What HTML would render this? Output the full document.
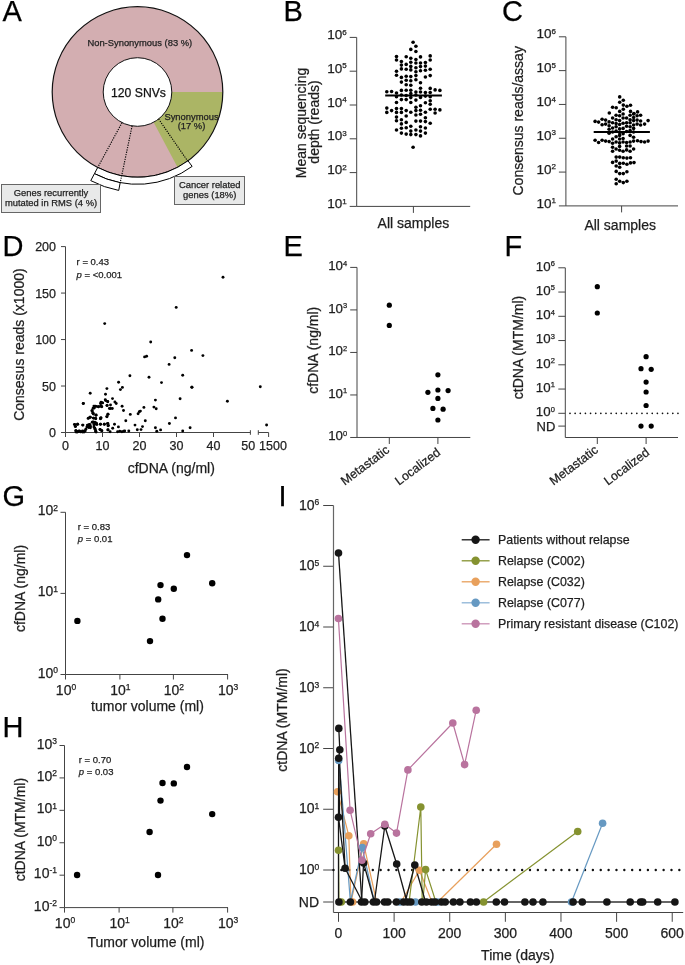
<!DOCTYPE html>
<html><head><meta charset="utf-8"><style>
html,body{margin:0;padding:0;background:#fff;}
svg{display:block;will-change:transform;}
</style></head><body>
<svg width="685" height="965" viewBox="0 0 685 965" font-family="Liberation Sans, sans-serif">
<style>text{stroke:currentColor;stroke-width:0.25px;}</style>
<rect width="685" height="965" fill="#fff"/>
<text x="2.40" y="21.30" font-size="29" text-anchor="start" fill="#000" color="#000" >A</text>
<circle cx="137.5" cy="92.0" r="85.3" fill="#d3aeb1"/>
<path d="M171.80,92.00 L222.80,92.00 A85.3,85.3 0 0 1 177.55,167.32 L153.60,122.29 Z" fill="#abb565"/>
<circle cx="137.5" cy="92.0" r="85.3" fill="none" stroke="#111" stroke-width="1.2"/>
<circle cx="137.5" cy="92.0" r="34.3" fill="#fff" stroke="#111" stroke-width="1"/>
<path d="M192.14,166.39 A92.3,92.3 0 0 1 94.45,173.65 L97.72,167.45 A85.3,85.3 0 0 0 188.00,160.75 Z" fill="#fff" stroke="#000" stroke-width="1"/>
<path d="M118.72,190.43 A100.2,100.2 0 0 1 90.77,180.64 L94.45,173.65 A92.3,92.3 0 0 0 120.20,182.67 Z" fill="#fff" stroke="#000" stroke-width="1"/>
<line x1="122.03" y1="122.62" x2="97.72" y2="167.45" stroke="#000" stroke-width="1.15" stroke-dasharray="1.2,1.2"/>
<line x1="132.13" y1="125.88" x2="120.20" y2="182.67" stroke="#000" stroke-width="1.15" stroke-dasharray="1.2,1.2"/>
<line x1="158.62" y1="119.03" x2="187.64" y2="161.01" stroke="#000" stroke-width="1.15" stroke-dasharray="1.2,1.2"/>
<text x="139.80" y="46.00" font-size="9.4" text-anchor="middle" fill="#222" color="#222" >Non-Synonymous (83 %)</text>
<text x="138.50" y="96.50" font-size="12.2" text-anchor="middle" fill="#111" color="#111" >120 SNVs</text>
<text x="191.50" y="119.50" font-size="9.4" text-anchor="middle" fill="#222" color="#222" >Synonymous</text>
<text x="191.50" y="128.90" font-size="9.4" text-anchor="middle" fill="#222" color="#222" >(17 %)</text>
<rect x="1.5" y="184.5" width="99" height="28" fill="#e8e9e9" stroke="#666" stroke-width="1"/>
<text x="51.00" y="195.90" font-size="9.4" text-anchor="middle" fill="#222" color="#222" >Genes recurrently</text>
<text x="51.00" y="205.50" font-size="9.4" text-anchor="middle" fill="#222" color="#222" >mutated in RMS (4 %)</text>
<rect x="174.5" y="176.5" width="70" height="28" fill="#e8e9e9" stroke="#666" stroke-width="1"/>
<text x="209.70" y="188.40" font-size="9.4" text-anchor="middle" fill="#222" color="#222" >Cancer related</text>
<text x="209.70" y="198.20" font-size="9.4" text-anchor="middle" fill="#222" color="#222" >genes (18%)</text>
<text x="283.40" y="21.30" font-size="29" text-anchor="start" fill="#000" color="#000" >B</text>
<line x1="356.70" y1="37.40" x2="356.70" y2="206.40" stroke="#444" stroke-width="1" />
<line x1="349.70" y1="37.40" x2="356.70" y2="37.40" stroke="#444" stroke-width="1" />
<text x="346.70" y="39.00" font-size="13.5" text-anchor="end" fill="#1e1e1e" color="#1e1e1e">10<tspan font-size="8" dy="-4.5">6</tspan></text>
<line x1="349.70" y1="71.20" x2="356.70" y2="71.20" stroke="#444" stroke-width="1" />
<text x="346.70" y="72.80" font-size="13.5" text-anchor="end" fill="#1e1e1e" color="#1e1e1e">10<tspan font-size="8" dy="-4.5">5</tspan></text>
<line x1="349.70" y1="105.00" x2="356.70" y2="105.00" stroke="#444" stroke-width="1" />
<text x="346.70" y="106.60" font-size="13.5" text-anchor="end" fill="#1e1e1e" color="#1e1e1e">10<tspan font-size="8" dy="-4.5">4</tspan></text>
<line x1="349.70" y1="138.80" x2="356.70" y2="138.80" stroke="#444" stroke-width="1" />
<text x="346.70" y="140.40" font-size="13.5" text-anchor="end" fill="#1e1e1e" color="#1e1e1e">10<tspan font-size="8" dy="-4.5">3</tspan></text>
<line x1="349.70" y1="172.60" x2="356.70" y2="172.60" stroke="#444" stroke-width="1" />
<text x="346.70" y="174.20" font-size="13.5" text-anchor="end" fill="#1e1e1e" color="#1e1e1e">10<tspan font-size="8" dy="-4.5">2</tspan></text>
<line x1="349.70" y1="206.40" x2="356.70" y2="206.40" stroke="#444" stroke-width="1" />
<text x="346.70" y="208.00" font-size="13.5" text-anchor="end" fill="#1e1e1e" color="#1e1e1e">10<tspan font-size="8" dy="-4.5">1</tspan></text>
<line x1="356.70" y1="206.40" x2="470.20" y2="206.40" stroke="#444" stroke-width="1" />
<line x1="413.40" y1="206.40" x2="413.40" y2="212.90" stroke="#444" stroke-width="1" />
<text x="413.40" y="227.70" font-size="14" text-anchor="middle" fill="#1e1e1e" color="#1e1e1e" >All samples</text>
<text x="0" y="0" font-size="14" text-anchor="middle" fill="#1e1e1e" color="#1e1e1e" transform="translate(305.50,123.00) rotate(-90)">Mean sequencing</text>
<text x="0" y="0" font-size="14" text-anchor="middle" fill="#1e1e1e" color="#1e1e1e" transform="translate(319.20,122.00) rotate(-90)">depth (reads)</text>
<circle cx="386.80" cy="91.80" r="1.8" fill="#000" />
<circle cx="386.80" cy="108.10" r="1.8" fill="#000" />
<circle cx="386.80" cy="112.40" r="1.8" fill="#000" />
<circle cx="391.60" cy="91.50" r="1.8" fill="#000" />
<circle cx="391.60" cy="110.60" r="1.8" fill="#000" />
<circle cx="396.50" cy="56.60" r="1.8" fill="#000" />
<circle cx="396.50" cy="60.00" r="1.8" fill="#000" />
<circle cx="396.50" cy="71.20" r="1.8" fill="#000" />
<circle cx="396.50" cy="75.30" r="1.8" fill="#000" />
<circle cx="396.50" cy="93.00" r="1.8" fill="#000" />
<circle cx="396.50" cy="96.80" r="1.8" fill="#000" />
<circle cx="396.50" cy="102.50" r="1.8" fill="#000" />
<circle cx="396.50" cy="108.60" r="1.8" fill="#000" />
<circle cx="396.50" cy="112.40" r="1.8" fill="#000" />
<circle cx="396.50" cy="117.10" r="1.8" fill="#000" />
<circle cx="396.50" cy="120.80" r="1.8" fill="#000" />
<circle cx="396.50" cy="130.00" r="1.8" fill="#000" />
<circle cx="401.40" cy="61.50" r="1.8" fill="#000" />
<circle cx="401.40" cy="65.10" r="1.8" fill="#000" />
<circle cx="401.40" cy="68.90" r="1.8" fill="#000" />
<circle cx="401.40" cy="77.40" r="1.8" fill="#000" />
<circle cx="401.40" cy="82.10" r="1.8" fill="#000" />
<circle cx="401.40" cy="90.40" r="1.8" fill="#000" />
<circle cx="401.40" cy="95.00" r="1.8" fill="#000" />
<circle cx="401.40" cy="99.60" r="1.8" fill="#000" />
<circle cx="401.40" cy="108.60" r="1.8" fill="#000" />
<circle cx="401.40" cy="112.40" r="1.8" fill="#000" />
<circle cx="401.40" cy="119.80" r="1.8" fill="#000" />
<circle cx="401.40" cy="123.90" r="1.8" fill="#000" />
<circle cx="401.40" cy="128.30" r="1.8" fill="#000" />
<circle cx="401.40" cy="133.10" r="1.8" fill="#000" />
<circle cx="406.20" cy="56.70" r="1.8" fill="#000" />
<circle cx="406.20" cy="64.40" r="1.8" fill="#000" />
<circle cx="406.20" cy="69.20" r="1.8" fill="#000" />
<circle cx="406.20" cy="76.30" r="1.8" fill="#000" />
<circle cx="406.20" cy="80.20" r="1.8" fill="#000" />
<circle cx="406.20" cy="84.80" r="1.8" fill="#000" />
<circle cx="406.20" cy="90.20" r="1.8" fill="#000" />
<circle cx="406.20" cy="95.50" r="1.8" fill="#000" />
<circle cx="406.20" cy="99.60" r="1.8" fill="#000" />
<circle cx="406.20" cy="110.60" r="1.8" fill="#000" />
<circle cx="406.20" cy="116.00" r="1.8" fill="#000" />
<circle cx="406.20" cy="122.40" r="1.8" fill="#000" />
<circle cx="406.20" cy="127.70" r="1.8" fill="#000" />
<circle cx="406.20" cy="134.10" r="1.8" fill="#000" />
<circle cx="410.80" cy="49.40" r="1.8" fill="#000" />
<circle cx="410.80" cy="58.20" r="1.8" fill="#000" />
<circle cx="410.80" cy="62.30" r="1.8" fill="#000" />
<circle cx="410.80" cy="66.40" r="1.8" fill="#000" />
<circle cx="410.80" cy="69.90" r="1.8" fill="#000" />
<circle cx="410.80" cy="76.60" r="1.8" fill="#000" />
<circle cx="410.80" cy="80.70" r="1.8" fill="#000" />
<circle cx="410.80" cy="85.30" r="1.8" fill="#000" />
<circle cx="410.80" cy="90.20" r="1.8" fill="#000" />
<circle cx="410.80" cy="93.50" r="1.8" fill="#000" />
<circle cx="410.80" cy="97.60" r="1.8" fill="#000" />
<circle cx="410.80" cy="102.50" r="1.8" fill="#000" />
<circle cx="410.80" cy="112.20" r="1.8" fill="#000" />
<circle cx="410.80" cy="126.30" r="1.8" fill="#000" />
<circle cx="410.80" cy="131.10" r="1.8" fill="#000" />
<circle cx="410.80" cy="134.60" r="1.8" fill="#000" />
<circle cx="413.10" cy="42.30" r="1.8" fill="#000" />
<circle cx="413.10" cy="147.20" r="1.8" fill="#000" />
<circle cx="415.90" cy="46.20" r="1.8" fill="#000" />
<circle cx="415.90" cy="51.50" r="1.8" fill="#000" />
<circle cx="415.90" cy="59.50" r="1.8" fill="#000" />
<circle cx="415.90" cy="63.00" r="1.8" fill="#000" />
<circle cx="415.90" cy="67.80" r="1.8" fill="#000" />
<circle cx="415.90" cy="71.70" r="1.8" fill="#000" />
<circle cx="415.90" cy="75.60" r="1.8" fill="#000" />
<circle cx="415.90" cy="79.70" r="1.8" fill="#000" />
<circle cx="415.90" cy="92.00" r="1.8" fill="#000" />
<circle cx="415.90" cy="95.00" r="1.8" fill="#000" />
<circle cx="415.90" cy="100.10" r="1.8" fill="#000" />
<circle cx="415.90" cy="107.20" r="1.8" fill="#000" />
<circle cx="415.90" cy="110.60" r="1.8" fill="#000" />
<circle cx="415.90" cy="115.00" r="1.8" fill="#000" />
<circle cx="415.90" cy="121.10" r="1.8" fill="#000" />
<circle cx="415.90" cy="130.00" r="1.8" fill="#000" />
<circle cx="415.90" cy="134.60" r="1.8" fill="#000" />
<circle cx="420.50" cy="56.90" r="1.8" fill="#000" />
<circle cx="420.50" cy="63.00" r="1.8" fill="#000" />
<circle cx="420.50" cy="66.60" r="1.8" fill="#000" />
<circle cx="420.50" cy="70.70" r="1.8" fill="#000" />
<circle cx="420.50" cy="82.80" r="1.8" fill="#000" />
<circle cx="420.50" cy="88.20" r="1.8" fill="#000" />
<circle cx="420.50" cy="92.00" r="1.8" fill="#000" />
<circle cx="420.50" cy="97.40" r="1.8" fill="#000" />
<circle cx="420.50" cy="105.80" r="1.8" fill="#000" />
<circle cx="420.50" cy="110.30" r="1.8" fill="#000" />
<circle cx="420.50" cy="114.20" r="1.8" fill="#000" />
<circle cx="420.50" cy="121.10" r="1.8" fill="#000" />
<circle cx="420.50" cy="126.70" r="1.8" fill="#000" />
<circle cx="420.50" cy="131.10" r="1.8" fill="#000" />
<circle cx="420.50" cy="135.90" r="1.8" fill="#000" />
<circle cx="425.40" cy="62.50" r="1.8" fill="#000" />
<circle cx="425.40" cy="66.10" r="1.8" fill="#000" />
<circle cx="425.40" cy="70.20" r="1.8" fill="#000" />
<circle cx="425.40" cy="77.00" r="1.8" fill="#000" />
<circle cx="425.40" cy="92.50" r="1.8" fill="#000" />
<circle cx="425.40" cy="96.10" r="1.8" fill="#000" />
<circle cx="425.40" cy="102.70" r="1.8" fill="#000" />
<circle cx="425.40" cy="112.20" r="1.8" fill="#000" />
<circle cx="425.40" cy="117.80" r="1.8" fill="#000" />
<circle cx="425.40" cy="121.60" r="1.8" fill="#000" />
<circle cx="425.40" cy="128.00" r="1.8" fill="#000" />
<circle cx="425.40" cy="133.10" r="1.8" fill="#000" />
<circle cx="430.20" cy="55.90" r="1.8" fill="#000" />
<circle cx="430.20" cy="60.00" r="1.8" fill="#000" />
<circle cx="430.20" cy="69.20" r="1.8" fill="#000" />
<circle cx="430.20" cy="75.60" r="1.8" fill="#000" />
<circle cx="430.20" cy="88.40" r="1.8" fill="#000" />
<circle cx="430.20" cy="92.50" r="1.8" fill="#000" />
<circle cx="430.20" cy="96.80" r="1.8" fill="#000" />
<circle cx="430.20" cy="100.70" r="1.8" fill="#000" />
<circle cx="430.20" cy="104.20" r="1.8" fill="#000" />
<circle cx="430.20" cy="109.30" r="1.8" fill="#000" />
<circle cx="430.20" cy="123.20" r="1.8" fill="#000" />
<circle cx="435.10" cy="89.90" r="1.8" fill="#000" />
<circle cx="435.10" cy="109.30" r="1.8" fill="#000" />
<circle cx="435.10" cy="113.00" r="1.8" fill="#000" />
<circle cx="439.90" cy="90.40" r="1.8" fill="#000" />
<circle cx="439.90" cy="109.90" r="1.8" fill="#000" />
<line x1="385.20" y1="95.50" x2="441.90" y2="95.50" stroke="#000" stroke-width="2" />
<text x="501.90" y="21.30" font-size="29" text-anchor="start" fill="#000" color="#000" >C</text>
<line x1="565.90" y1="36.80" x2="565.90" y2="205.90" stroke="#444" stroke-width="1" />
<line x1="558.90" y1="36.80" x2="565.90" y2="36.80" stroke="#444" stroke-width="1" />
<text x="555.90" y="38.40" font-size="13.5" text-anchor="end" fill="#1e1e1e" color="#1e1e1e">10<tspan font-size="8" dy="-4.5">6</tspan></text>
<line x1="558.90" y1="70.62" x2="565.90" y2="70.62" stroke="#444" stroke-width="1" />
<text x="555.90" y="72.22" font-size="13.5" text-anchor="end" fill="#1e1e1e" color="#1e1e1e">10<tspan font-size="8" dy="-4.5">5</tspan></text>
<line x1="558.90" y1="104.44" x2="565.90" y2="104.44" stroke="#444" stroke-width="1" />
<text x="555.90" y="106.04" font-size="13.5" text-anchor="end" fill="#1e1e1e" color="#1e1e1e">10<tspan font-size="8" dy="-4.5">4</tspan></text>
<line x1="558.90" y1="138.26" x2="565.90" y2="138.26" stroke="#444" stroke-width="1" />
<text x="555.90" y="139.86" font-size="13.5" text-anchor="end" fill="#1e1e1e" color="#1e1e1e">10<tspan font-size="8" dy="-4.5">3</tspan></text>
<line x1="558.90" y1="172.08" x2="565.90" y2="172.08" stroke="#444" stroke-width="1" />
<text x="555.90" y="173.68" font-size="13.5" text-anchor="end" fill="#1e1e1e" color="#1e1e1e">10<tspan font-size="8" dy="-4.5">2</tspan></text>
<line x1="558.90" y1="205.90" x2="565.90" y2="205.90" stroke="#444" stroke-width="1" />
<text x="555.90" y="207.50" font-size="13.5" text-anchor="end" fill="#1e1e1e" color="#1e1e1e">10<tspan font-size="8" dy="-4.5">1</tspan></text>
<line x1="565.90" y1="205.90" x2="678.00" y2="205.90" stroke="#444" stroke-width="1" />
<line x1="621.60" y1="205.90" x2="621.60" y2="212.40" stroke="#444" stroke-width="1" />
<text x="620.20" y="229.80" font-size="14" text-anchor="middle" fill="#1e1e1e" color="#1e1e1e" >All samples</text>
<text x="0" y="0" font-size="14" text-anchor="middle" fill="#1e1e1e" color="#1e1e1e" transform="translate(523.30,120.80) rotate(-90)">Consensus reads/assay</text>
<circle cx="619.70" cy="96.90" r="1.8" fill="#000" />
<circle cx="623.30" cy="100.20" r="1.8" fill="#000" />
<circle cx="619.70" cy="102.20" r="1.8" fill="#000" />
<circle cx="623.30" cy="105.10" r="1.8" fill="#000" />
<circle cx="626.90" cy="106.30" r="1.8" fill="#000" />
<circle cx="630.50" cy="105.30" r="1.8" fill="#000" />
<circle cx="612.60" cy="107.30" r="1.8" fill="#000" />
<circle cx="616.20" cy="107.80" r="1.8" fill="#000" />
<circle cx="623.30" cy="109.20" r="1.8" fill="#000" />
<circle cx="609.30" cy="113.00" r="1.8" fill="#000" />
<circle cx="619.70" cy="111.40" r="1.8" fill="#000" />
<circle cx="630.50" cy="111.40" r="1.8" fill="#000" />
<circle cx="637.60" cy="111.90" r="1.8" fill="#000" />
<circle cx="634.00" cy="113.50" r="1.8" fill="#000" />
<circle cx="616.20" cy="157.10" r="1.8" fill="#000" />
<circle cx="619.70" cy="157.10" r="1.8" fill="#000" />
<circle cx="623.30" cy="157.80" r="1.8" fill="#000" />
<circle cx="626.90" cy="158.10" r="1.8" fill="#000" />
<circle cx="630.50" cy="157.80" r="1.8" fill="#000" />
<circle cx="612.60" cy="162.40" r="1.8" fill="#000" />
<circle cx="616.20" cy="161.10" r="1.8" fill="#000" />
<circle cx="619.70" cy="163.40" r="1.8" fill="#000" />
<circle cx="623.30" cy="163.20" r="1.8" fill="#000" />
<circle cx="626.90" cy="164.20" r="1.8" fill="#000" />
<circle cx="630.50" cy="162.90" r="1.8" fill="#000" />
<circle cx="634.00" cy="162.60" r="1.8" fill="#000" />
<circle cx="616.20" cy="166.00" r="1.8" fill="#000" />
<circle cx="619.70" cy="167.30" r="1.8" fill="#000" />
<circle cx="616.20" cy="171.40" r="1.8" fill="#000" />
<circle cx="619.70" cy="173.60" r="1.8" fill="#000" />
<circle cx="623.30" cy="173.60" r="1.8" fill="#000" />
<circle cx="626.90" cy="171.80" r="1.8" fill="#000" />
<circle cx="616.20" cy="179.20" r="1.8" fill="#000" />
<circle cx="619.70" cy="181.30" r="1.8" fill="#000" />
<circle cx="623.30" cy="182.60" r="1.8" fill="#000" />
<circle cx="626.90" cy="181.30" r="1.8" fill="#000" />
<circle cx="616.20" cy="183.80" r="1.8" fill="#000" />
<circle cx="595.10" cy="121.40" r="1.8" fill="#000" />
<circle cx="598.60" cy="122.10" r="1.8" fill="#000" />
<circle cx="602.10" cy="119.30" r="1.8" fill="#000" />
<circle cx="602.10" cy="124.70" r="1.8" fill="#000" />
<circle cx="605.60" cy="120.10" r="1.8" fill="#000" />
<circle cx="605.60" cy="124.10" r="1.8" fill="#000" />
<circle cx="609.10" cy="121.90" r="1.8" fill="#000" />
<circle cx="609.10" cy="125.80" r="1.8" fill="#000" />
<circle cx="612.60" cy="118.00" r="1.8" fill="#000" />
<circle cx="612.60" cy="122.80" r="1.8" fill="#000" />
<circle cx="616.10" cy="115.30" r="1.8" fill="#000" />
<circle cx="616.10" cy="119.70" r="1.8" fill="#000" />
<circle cx="616.10" cy="123.60" r="1.8" fill="#000" />
<circle cx="616.10" cy="126.70" r="1.8" fill="#000" />
<circle cx="619.60" cy="115.80" r="1.8" fill="#000" />
<circle cx="619.60" cy="120.60" r="1.8" fill="#000" />
<circle cx="619.60" cy="124.50" r="1.8" fill="#000" />
<circle cx="623.10" cy="114.00" r="1.8" fill="#000" />
<circle cx="623.10" cy="118.00" r="1.8" fill="#000" />
<circle cx="623.10" cy="123.20" r="1.8" fill="#000" />
<circle cx="626.60" cy="118.00" r="1.8" fill="#000" />
<circle cx="626.60" cy="122.80" r="1.8" fill="#000" />
<circle cx="626.60" cy="126.30" r="1.8" fill="#000" />
<circle cx="630.10" cy="115.30" r="1.8" fill="#000" />
<circle cx="630.10" cy="119.70" r="1.8" fill="#000" />
<circle cx="630.10" cy="122.80" r="1.8" fill="#000" />
<circle cx="630.10" cy="126.70" r="1.8" fill="#000" />
<circle cx="633.60" cy="114.00" r="1.8" fill="#000" />
<circle cx="633.60" cy="117.50" r="1.8" fill="#000" />
<circle cx="633.60" cy="120.60" r="1.8" fill="#000" />
<circle cx="633.60" cy="125.00" r="1.8" fill="#000" />
<circle cx="637.10" cy="115.80" r="1.8" fill="#000" />
<circle cx="637.10" cy="120.10" r="1.8" fill="#000" />
<circle cx="637.10" cy="124.10" r="1.8" fill="#000" />
<circle cx="640.60" cy="115.30" r="1.8" fill="#000" />
<circle cx="640.60" cy="121.00" r="1.8" fill="#000" />
<circle cx="640.60" cy="125.00" r="1.8" fill="#000" />
<circle cx="644.60" cy="124.10" r="1.8" fill="#000" />
<circle cx="648.10" cy="120.60" r="1.8" fill="#000" />
<circle cx="609.10" cy="129.30" r="1.8" fill="#000" />
<circle cx="609.10" cy="133.30" r="1.8" fill="#000" />
<circle cx="609.10" cy="141.60" r="1.8" fill="#000" />
<circle cx="612.60" cy="128.00" r="1.8" fill="#000" />
<circle cx="612.60" cy="132.00" r="1.8" fill="#000" />
<circle cx="612.60" cy="139.00" r="1.8" fill="#000" />
<circle cx="612.60" cy="143.30" r="1.8" fill="#000" />
<circle cx="612.60" cy="147.30" r="1.8" fill="#000" />
<circle cx="612.60" cy="151.20" r="1.8" fill="#000" />
<circle cx="616.10" cy="131.00" r="1.8" fill="#000" />
<circle cx="616.10" cy="136.80" r="1.8" fill="#000" />
<circle cx="616.10" cy="142.00" r="1.8" fill="#000" />
<circle cx="616.10" cy="149.00" r="1.8" fill="#000" />
<circle cx="619.60" cy="128.90" r="1.8" fill="#000" />
<circle cx="619.60" cy="132.40" r="1.8" fill="#000" />
<circle cx="619.60" cy="135.40" r="1.8" fill="#000" />
<circle cx="619.60" cy="139.00" r="1.8" fill="#000" />
<circle cx="619.60" cy="142.90" r="1.8" fill="#000" />
<circle cx="619.60" cy="146.40" r="1.8" fill="#000" />
<circle cx="619.60" cy="150.30" r="1.8" fill="#000" />
<circle cx="623.10" cy="128.40" r="1.8" fill="#000" />
<circle cx="623.10" cy="133.70" r="1.8" fill="#000" />
<circle cx="623.10" cy="138.50" r="1.8" fill="#000" />
<circle cx="623.10" cy="142.00" r="1.8" fill="#000" />
<circle cx="623.10" cy="151.20" r="1.8" fill="#000" />
<circle cx="626.60" cy="131.50" r="1.8" fill="#000" />
<circle cx="626.60" cy="142.50" r="1.8" fill="#000" />
<circle cx="626.60" cy="146.00" r="1.8" fill="#000" />
<circle cx="626.60" cy="149.90" r="1.8" fill="#000" />
<circle cx="630.10" cy="130.60" r="1.8" fill="#000" />
<circle cx="630.10" cy="135.40" r="1.8" fill="#000" />
<circle cx="630.10" cy="142.00" r="1.8" fill="#000" />
<circle cx="630.10" cy="146.00" r="1.8" fill="#000" />
<circle cx="630.10" cy="151.20" r="1.8" fill="#000" />
<circle cx="633.60" cy="128.40" r="1.8" fill="#000" />
<circle cx="633.60" cy="132.00" r="1.8" fill="#000" />
<circle cx="633.60" cy="137.20" r="1.8" fill="#000" />
<circle cx="633.60" cy="141.10" r="1.8" fill="#000" />
<circle cx="633.60" cy="149.00" r="1.8" fill="#000" />
<circle cx="595.10" cy="140.30" r="1.8" fill="#000" />
<circle cx="598.60" cy="142.50" r="1.8" fill="#000" />
<circle cx="602.10" cy="140.30" r="1.8" fill="#000" />
<circle cx="605.60" cy="141.10" r="1.8" fill="#000" />
<circle cx="637.50" cy="140.70" r="1.8" fill="#000" />
<circle cx="641.00" cy="141.60" r="1.8" fill="#000" />
<circle cx="644.60" cy="142.00" r="1.8" fill="#000" />
<circle cx="648.10" cy="141.10" r="1.8" fill="#000" />
<line x1="593.70" y1="132.10" x2="649.90" y2="132.10" stroke="#000" stroke-width="2" />
<text x="2.40" y="255.60" font-size="29" text-anchor="start" fill="#000" color="#000" >D</text>
<line x1="65.50" y1="246.60" x2="65.50" y2="432.50" stroke="#444" stroke-width="1" />
<line x1="61.00" y1="432.50" x2="65.50" y2="432.50" stroke="#444" stroke-width="1" />
<text x="56.00" y="437.00" font-size="12.5" text-anchor="end" fill="#1e1e1e" color="#1e1e1e" >0</text>
<line x1="61.00" y1="386.02" x2="65.50" y2="386.02" stroke="#444" stroke-width="1" />
<text x="56.00" y="390.52" font-size="12.5" text-anchor="end" fill="#1e1e1e" color="#1e1e1e" >50</text>
<line x1="61.00" y1="339.55" x2="65.50" y2="339.55" stroke="#444" stroke-width="1" />
<text x="56.00" y="344.05" font-size="12.5" text-anchor="end" fill="#1e1e1e" color="#1e1e1e" >100</text>
<line x1="61.00" y1="293.07" x2="65.50" y2="293.07" stroke="#444" stroke-width="1" />
<text x="56.00" y="297.57" font-size="12.5" text-anchor="end" fill="#1e1e1e" color="#1e1e1e" >150</text>
<line x1="61.00" y1="246.60" x2="65.50" y2="246.60" stroke="#444" stroke-width="1" />
<text x="56.00" y="251.10" font-size="12.5" text-anchor="end" fill="#1e1e1e" color="#1e1e1e" >200</text>
<line x1="65.50" y1="432.50" x2="250.40" y2="432.50" stroke="#444" stroke-width="1" />
<line x1="250.40" y1="430.20" x2="250.40" y2="434.80" stroke="#444" stroke-width="1" />
<line x1="258.30" y1="432.50" x2="268.60" y2="432.50" stroke="#444" stroke-width="1" />
<line x1="258.30" y1="430.20" x2="258.30" y2="434.80" stroke="#444" stroke-width="1" />
<line x1="268.60" y1="432.50" x2="268.60" y2="437.00" stroke="#444" stroke-width="1" />
<line x1="65.50" y1="432.50" x2="65.50" y2="437.00" stroke="#444" stroke-width="1" />
<text x="65.50" y="450.30" font-size="12.5" text-anchor="middle" fill="#1e1e1e" color="#1e1e1e" >0</text>
<line x1="102.50" y1="432.50" x2="102.50" y2="437.00" stroke="#444" stroke-width="1" />
<text x="102.50" y="450.30" font-size="12.5" text-anchor="middle" fill="#1e1e1e" color="#1e1e1e" >10</text>
<line x1="139.50" y1="432.50" x2="139.50" y2="437.00" stroke="#444" stroke-width="1" />
<text x="139.50" y="450.30" font-size="12.5" text-anchor="middle" fill="#1e1e1e" color="#1e1e1e" >20</text>
<line x1="176.50" y1="432.50" x2="176.50" y2="437.00" stroke="#444" stroke-width="1" />
<text x="176.50" y="450.30" font-size="12.5" text-anchor="middle" fill="#1e1e1e" color="#1e1e1e" >30</text>
<line x1="213.50" y1="432.50" x2="213.50" y2="437.00" stroke="#444" stroke-width="1" />
<text x="213.50" y="450.30" font-size="12.5" text-anchor="middle" fill="#1e1e1e" color="#1e1e1e" >40</text>
<text x="248.30" y="450.30" font-size="12.5" text-anchor="middle" fill="#1e1e1e" color="#1e1e1e" >50</text>
<text x="273.00" y="450.30" font-size="12.5" text-anchor="middle" fill="#1e1e1e" color="#1e1e1e" >1500</text>
<text x="171.30" y="472.80" font-size="14" text-anchor="middle" fill="#1e1e1e" color="#1e1e1e" >cfDNA (ng/ml)</text>
<text x="0" y="0" font-size="14" text-anchor="middle" fill="#1e1e1e" color="#1e1e1e" transform="translate(24.00,344.60) rotate(-90)">Consesus reads (x1000)</text>
<text x="76.60" y="265.00" font-size="9.5" text-anchor="start" fill="#222" color="#222" >r = 0.43</text>
<text x="76.6" y="277.5" font-size="9.5" fill="#222" color="#222"><tspan font-style="italic">p</tspan> = &lt;0.001</text>
<circle cx="118.60" cy="382.20" r="1.45" fill="#000" />
<circle cx="122.40" cy="387.40" r="1.45" fill="#000" />
<circle cx="120.40" cy="389.60" r="1.45" fill="#000" />
<circle cx="106.90" cy="388.60" r="1.45" fill="#000" />
<circle cx="90.20" cy="393.30" r="1.45" fill="#000" />
<circle cx="105.50" cy="394.20" r="1.45" fill="#000" />
<circle cx="83.20" cy="403.50" r="1.45" fill="#000" />
<circle cx="112.50" cy="398.60" r="1.45" fill="#000" />
<circle cx="105.30" cy="399.70" r="1.45" fill="#000" />
<circle cx="107.70" cy="401.50" r="1.45" fill="#000" />
<circle cx="114.90" cy="401.90" r="1.45" fill="#000" />
<circle cx="116.20" cy="403.50" r="1.45" fill="#000" />
<circle cx="101.80" cy="402.60" r="1.45" fill="#000" />
<circle cx="100.50" cy="403.60" r="1.45" fill="#000" />
<circle cx="107.00" cy="405.40" r="1.45" fill="#000" />
<circle cx="110.50" cy="405.00" r="1.45" fill="#000" />
<circle cx="100.90" cy="406.30" r="1.45" fill="#000" />
<circle cx="98.30" cy="406.70" r="1.45" fill="#000" />
<circle cx="95.20" cy="406.30" r="1.45" fill="#000" />
<circle cx="94.30" cy="408.00" r="1.45" fill="#000" />
<circle cx="110.50" cy="408.50" r="1.45" fill="#000" />
<circle cx="112.30" cy="408.50" r="1.45" fill="#000" />
<circle cx="122.10" cy="406.30" r="1.45" fill="#000" />
<circle cx="123.50" cy="410.50" r="1.45" fill="#000" />
<circle cx="92.20" cy="410.70" r="1.45" fill="#000" />
<circle cx="93.00" cy="413.30" r="1.45" fill="#000" />
<circle cx="96.10" cy="415.00" r="1.45" fill="#000" />
<circle cx="107.90" cy="414.20" r="1.45" fill="#000" />
<circle cx="107.00" cy="416.80" r="1.45" fill="#000" />
<circle cx="88.60" cy="418.10" r="1.45" fill="#000" />
<circle cx="90.40" cy="417.20" r="1.45" fill="#000" />
<circle cx="93.50" cy="418.10" r="1.45" fill="#000" />
<circle cx="95.70" cy="418.50" r="1.45" fill="#000" />
<circle cx="100.50" cy="418.50" r="1.45" fill="#000" />
<circle cx="100.90" cy="417.70" r="1.45" fill="#000" />
<circle cx="75.10" cy="424.70" r="1.45" fill="#000" />
<circle cx="77.70" cy="424.20" r="1.45" fill="#000" />
<circle cx="83.00" cy="425.10" r="1.45" fill="#000" />
<circle cx="75.50" cy="426.40" r="1.45" fill="#000" />
<circle cx="87.80" cy="425.10" r="1.45" fill="#000" />
<circle cx="90.00" cy="424.70" r="1.45" fill="#000" />
<circle cx="88.60" cy="427.30" r="1.45" fill="#000" />
<circle cx="90.40" cy="427.70" r="1.45" fill="#000" />
<circle cx="93.00" cy="422.00" r="1.45" fill="#000" />
<circle cx="95.20" cy="422.50" r="1.45" fill="#000" />
<circle cx="96.50" cy="423.80" r="1.45" fill="#000" />
<circle cx="93.90" cy="424.70" r="1.45" fill="#000" />
<circle cx="100.50" cy="424.20" r="1.45" fill="#000" />
<circle cx="104.40" cy="424.20" r="1.45" fill="#000" />
<circle cx="107.90" cy="423.40" r="1.45" fill="#000" />
<circle cx="108.40" cy="425.50" r="1.45" fill="#000" />
<circle cx="114.50" cy="424.20" r="1.45" fill="#000" />
<circle cx="118.40" cy="426.90" r="1.45" fill="#000" />
<circle cx="112.70" cy="428.20" r="1.45" fill="#000" />
<circle cx="94.80" cy="428.20" r="1.45" fill="#000" />
<circle cx="95.70" cy="430.80" r="1.45" fill="#000" />
<circle cx="100.00" cy="429.50" r="1.45" fill="#000" />
<circle cx="101.80" cy="430.80" r="1.45" fill="#000" />
<circle cx="107.90" cy="429.90" r="1.45" fill="#000" />
<circle cx="110.10" cy="431.70" r="1.45" fill="#000" />
<circle cx="96.10" cy="432.10" r="1.45" fill="#000" />
<circle cx="76.00" cy="430.80" r="1.45" fill="#000" />
<circle cx="77.30" cy="432.10" r="1.45" fill="#000" />
<circle cx="79.00" cy="431.20" r="1.45" fill="#000" />
<circle cx="80.80" cy="431.70" r="1.45" fill="#000" />
<circle cx="82.50" cy="432.10" r="1.45" fill="#000" />
<circle cx="84.30" cy="431.20" r="1.45" fill="#000" />
<circle cx="117.60" cy="431.70" r="1.45" fill="#000" />
<circle cx="119.70" cy="431.20" r="1.45" fill="#000" />
<circle cx="121.90" cy="431.70" r="1.45" fill="#000" />
<circle cx="123.70" cy="431.20" r="1.45" fill="#000" />
<circle cx="129.90" cy="375.80" r="1.45" fill="#000" />
<circle cx="149.00" cy="377.20" r="1.45" fill="#000" />
<circle cx="161.50" cy="382.60" r="1.45" fill="#000" />
<circle cx="182.70" cy="375.30" r="1.45" fill="#000" />
<circle cx="191.80" cy="387.30" r="1.45" fill="#000" />
<circle cx="155.40" cy="400.10" r="1.45" fill="#000" />
<circle cx="180.10" cy="398.80" r="1.45" fill="#000" />
<circle cx="130.30" cy="414.40" r="1.45" fill="#000" />
<circle cx="143.90" cy="407.40" r="1.45" fill="#000" />
<circle cx="140.40" cy="411.10" r="1.45" fill="#000" />
<circle cx="139.30" cy="411.80" r="1.45" fill="#000" />
<circle cx="138.10" cy="413.80" r="1.45" fill="#000" />
<circle cx="153.90" cy="407.10" r="1.45" fill="#000" />
<circle cx="156.20" cy="408.80" r="1.45" fill="#000" />
<circle cx="125.80" cy="420.80" r="1.45" fill="#000" />
<circle cx="145.30" cy="420.80" r="1.45" fill="#000" />
<circle cx="175.50" cy="417.90" r="1.45" fill="#000" />
<circle cx="169.40" cy="423.50" r="1.45" fill="#000" />
<circle cx="135.00" cy="425.10" r="1.45" fill="#000" />
<circle cx="142.50" cy="426.60" r="1.45" fill="#000" />
<circle cx="141.00" cy="429.60" r="1.45" fill="#000" />
<circle cx="137.30" cy="429.80" r="1.45" fill="#000" />
<circle cx="155.40" cy="427.80" r="1.45" fill="#000" />
<circle cx="156.80" cy="431.30" r="1.45" fill="#000" />
<circle cx="160.60" cy="429.90" r="1.45" fill="#000" />
<circle cx="182.70" cy="431.00" r="1.45" fill="#000" />
<circle cx="190.10" cy="427.80" r="1.45" fill="#000" />
<circle cx="128.80" cy="431.00" r="1.45" fill="#000" />
<circle cx="124.70" cy="431.00" r="1.45" fill="#000" />
<circle cx="191.60" cy="350.40" r="1.45" fill="#000" />
<circle cx="202.90" cy="355.60" r="1.45" fill="#000" />
<circle cx="192.00" cy="387.20" r="1.45" fill="#000" />
<circle cx="227.40" cy="401.20" r="1.45" fill="#000" />
<circle cx="260.30" cy="386.80" r="1.45" fill="#000" />
<circle cx="266.60" cy="425.00" r="1.45" fill="#000" />
<circle cx="223.00" cy="277.20" r="1.45" fill="#000" />
<circle cx="176.20" cy="307.40" r="1.45" fill="#000" />
<circle cx="104.70" cy="323.60" r="1.45" fill="#000" />
<circle cx="150.70" cy="342.00" r="1.45" fill="#000" />
<circle cx="144.60" cy="356.90" r="1.45" fill="#000" />
<circle cx="146.60" cy="356.30" r="1.45" fill="#000" />
<circle cx="174.80" cy="357.70" r="1.45" fill="#000" />
<circle cx="169.10" cy="364.40" r="1.45" fill="#000" />
<circle cx="83.40" cy="403.50" r="1.45" fill="#000" />
<circle cx="101.00" cy="402.30" r="1.45" fill="#000" />
<circle cx="102.70" cy="402.90" r="1.45" fill="#000" />
<circle cx="105.60" cy="400.60" r="1.45" fill="#000" />
<circle cx="107.70" cy="401.80" r="1.45" fill="#000" />
<circle cx="93.90" cy="406.10" r="1.45" fill="#000" />
<circle cx="96.30" cy="406.40" r="1.45" fill="#000" />
<circle cx="98.60" cy="406.70" r="1.45" fill="#000" />
<circle cx="101.00" cy="405.80" r="1.45" fill="#000" />
<circle cx="101.80" cy="406.70" r="1.45" fill="#000" />
<circle cx="107.10" cy="405.50" r="1.45" fill="#000" />
<circle cx="109.40" cy="408.50" r="1.45" fill="#000" />
<circle cx="93.10" cy="408.20" r="1.45" fill="#000" />
<circle cx="91.90" cy="410.80" r="1.45" fill="#000" />
<circle cx="92.80" cy="412.80" r="1.45" fill="#000" />
<circle cx="93.40" cy="414.00" r="1.45" fill="#000" />
<circle cx="96.00" cy="415.20" r="1.45" fill="#000" />
<circle cx="108.00" cy="414.30" r="1.45" fill="#000" />
<circle cx="106.80" cy="416.60" r="1.45" fill="#000" />
<circle cx="88.10" cy="418.40" r="1.45" fill="#000" />
<circle cx="89.90" cy="417.20" r="1.45" fill="#000" />
<circle cx="93.40" cy="418.10" r="1.45" fill="#000" />
<circle cx="95.70" cy="418.70" r="1.45" fill="#000" />
<circle cx="100.40" cy="418.70" r="1.45" fill="#000" />
<circle cx="101.00" cy="418.10" r="1.45" fill="#000" />
<circle cx="92.20" cy="422.20" r="1.45" fill="#000" />
<circle cx="93.90" cy="422.20" r="1.45" fill="#000" />
<circle cx="96.30" cy="423.10" r="1.45" fill="#000" />
<circle cx="96.90" cy="424.50" r="1.45" fill="#000" />
<circle cx="94.50" cy="424.50" r="1.45" fill="#000" />
<circle cx="87.50" cy="425.10" r="1.45" fill="#000" />
<circle cx="89.30" cy="424.50" r="1.45" fill="#000" />
<circle cx="90.40" cy="426.30" r="1.45" fill="#000" />
<circle cx="88.70" cy="427.40" r="1.45" fill="#000" />
<circle cx="86.90" cy="426.90" r="1.45" fill="#000" />
<circle cx="85.80" cy="429.20" r="1.45" fill="#000" />
<circle cx="74.40" cy="424.50" r="1.45" fill="#000" />
<circle cx="77.60" cy="424.20" r="1.45" fill="#000" />
<circle cx="82.60" cy="425.10" r="1.45" fill="#000" />
<circle cx="75.30" cy="426.60" r="1.45" fill="#000" />
<circle cx="100.40" cy="424.20" r="1.45" fill="#000" />
<circle cx="104.20" cy="424.20" r="1.45" fill="#000" />
<circle cx="107.40" cy="423.60" r="1.45" fill="#000" />
<circle cx="108.00" cy="425.70" r="1.45" fill="#000" />
<circle cx="93.90" cy="426.90" r="1.45" fill="#000" />
<circle cx="95.10" cy="429.20" r="1.45" fill="#000" />
<circle cx="95.70" cy="431.50" r="1.45" fill="#000" />
<circle cx="100.10" cy="429.50" r="1.45" fill="#000" />
<circle cx="101.80" cy="430.70" r="1.45" fill="#000" />
<circle cx="108.00" cy="429.80" r="1.45" fill="#000" />
<circle cx="75.80" cy="430.70" r="1.45" fill="#000" />
<circle cx="76.10" cy="432.10" r="1.45" fill="#000" />
<circle cx="77.90" cy="431.50" r="1.45" fill="#000" />
<circle cx="79.30" cy="430.90" r="1.45" fill="#000" />
<circle cx="80.80" cy="431.80" r="1.45" fill="#000" />
<circle cx="82.60" cy="430.90" r="1.45" fill="#000" />
<circle cx="84.00" cy="432.10" r="1.45" fill="#000" />
<circle cx="85.20" cy="430.90" r="1.45" fill="#000" />
<text x="283.40" y="255.60" font-size="29" text-anchor="start" fill="#000" color="#000" >E</text>
<line x1="357.00" y1="267.40" x2="357.00" y2="437.48" stroke="#444" stroke-width="1" />
<line x1="350.20" y1="267.40" x2="357.00" y2="267.40" stroke="#444" stroke-width="1" />
<text x="347.20" y="270.40" font-size="13.3" text-anchor="end" fill="#1e1e1e" color="#1e1e1e">10<tspan font-size="7.5" dy="-4.5">4</tspan></text>
<line x1="350.20" y1="309.92" x2="357.00" y2="309.92" stroke="#444" stroke-width="1" />
<text x="347.20" y="312.92" font-size="13.3" text-anchor="end" fill="#1e1e1e" color="#1e1e1e">10<tspan font-size="7.5" dy="-4.5">3</tspan></text>
<line x1="350.20" y1="352.44" x2="357.00" y2="352.44" stroke="#444" stroke-width="1" />
<text x="347.20" y="355.44" font-size="13.3" text-anchor="end" fill="#1e1e1e" color="#1e1e1e">10<tspan font-size="7.5" dy="-4.5">2</tspan></text>
<line x1="350.20" y1="394.96" x2="357.00" y2="394.96" stroke="#444" stroke-width="1" />
<text x="347.20" y="397.96" font-size="13.3" text-anchor="end" fill="#1e1e1e" color="#1e1e1e">10<tspan font-size="7.5" dy="-4.5">1</tspan></text>
<line x1="350.20" y1="437.48" x2="357.00" y2="437.48" stroke="#444" stroke-width="1" />
<text x="347.20" y="440.48" font-size="13.3" text-anchor="end" fill="#1e1e1e" color="#1e1e1e">10<tspan font-size="7.5" dy="-4.5">0</tspan></text>
<line x1="357.00" y1="437.48" x2="470.30" y2="437.48" stroke="#444" stroke-width="1" />
<line x1="389.30" y1="437.48" x2="389.30" y2="443.98" stroke="#444" stroke-width="1" />
<line x1="437.90" y1="437.48" x2="437.90" y2="443.98" stroke="#444" stroke-width="1" />
<text x="0" y="0" font-size="12.5" text-anchor="end" fill="#1e1e1e" color="#1e1e1e" transform="translate(390.20,451.50) rotate(-37)">Metastatic</text>
<text x="0" y="0" font-size="12.5" text-anchor="end" fill="#1e1e1e" color="#1e1e1e" transform="translate(441.30,454.00) rotate(-37)">Localized</text>
<text x="0" y="0" font-size="14" text-anchor="middle" fill="#1e1e1e" color="#1e1e1e" transform="translate(318.00,350.30) rotate(-90)">cfDNA (ng/ml)</text>
<circle cx="389.30" cy="305.20" r="2.6" fill="#000" />
<circle cx="389.30" cy="325.40" r="2.6" fill="#000" />
<circle cx="437.90" cy="374.80" r="2.6" fill="#000" />
<circle cx="427.90" cy="392.30" r="2.6" fill="#000" />
<circle cx="437.90" cy="390.00" r="2.6" fill="#000" />
<circle cx="448.10" cy="390.60" r="2.6" fill="#000" />
<circle cx="437.90" cy="398.40" r="2.6" fill="#000" />
<circle cx="432.90" cy="408.40" r="2.6" fill="#000" />
<circle cx="443.10" cy="409.20" r="2.6" fill="#000" />
<circle cx="437.90" cy="420.00" r="2.6" fill="#000" />
<text x="504.40" y="255.60" font-size="29" text-anchor="start" fill="#000" color="#000" >F</text>
<line x1="558.30" y1="267.80" x2="565.30" y2="267.80" stroke="#444" stroke-width="1" />
<text x="554.80" y="270.60" font-size="13.3" text-anchor="end" fill="#1e1e1e" color="#1e1e1e">10<tspan font-size="7.5" dy="-4.5">6</tspan></text>
<line x1="558.30" y1="292.05" x2="565.30" y2="292.05" stroke="#444" stroke-width="1" />
<text x="554.80" y="294.85" font-size="13.3" text-anchor="end" fill="#1e1e1e" color="#1e1e1e">10<tspan font-size="7.5" dy="-4.5">5</tspan></text>
<line x1="558.30" y1="316.30" x2="565.30" y2="316.30" stroke="#444" stroke-width="1" />
<text x="554.80" y="319.10" font-size="13.3" text-anchor="end" fill="#1e1e1e" color="#1e1e1e">10<tspan font-size="7.5" dy="-4.5">4</tspan></text>
<line x1="558.30" y1="340.55" x2="565.30" y2="340.55" stroke="#444" stroke-width="1" />
<text x="554.80" y="343.35" font-size="13.3" text-anchor="end" fill="#1e1e1e" color="#1e1e1e">10<tspan font-size="7.5" dy="-4.5">3</tspan></text>
<line x1="558.30" y1="364.80" x2="565.30" y2="364.80" stroke="#444" stroke-width="1" />
<text x="554.80" y="367.60" font-size="13.3" text-anchor="end" fill="#1e1e1e" color="#1e1e1e">10<tspan font-size="7.5" dy="-4.5">2</tspan></text>
<line x1="558.30" y1="389.05" x2="565.30" y2="389.05" stroke="#444" stroke-width="1" />
<text x="554.80" y="391.85" font-size="13.3" text-anchor="end" fill="#1e1e1e" color="#1e1e1e">10<tspan font-size="7.5" dy="-4.5">1</tspan></text>
<line x1="558.30" y1="413.30" x2="565.30" y2="413.30" stroke="#444" stroke-width="1" />
<text x="554.80" y="416.10" font-size="13.3" text-anchor="end" fill="#1e1e1e" color="#1e1e1e">10<tspan font-size="7.5" dy="-4.5">0</tspan></text>
<line x1="565.30" y1="267.80" x2="565.30" y2="437.50" stroke="#444" stroke-width="1" />
<line x1="558.30" y1="426.10" x2="565.30" y2="426.10" stroke="#444" stroke-width="1" />
<text x="555.30" y="430.50" font-size="13" text-anchor="end" fill="#1e1e1e" color="#1e1e1e" >ND</text>
<line x1="565.30" y1="437.50" x2="678.00" y2="437.50" stroke="#444" stroke-width="1" />
<line x1="597.30" y1="437.50" x2="597.30" y2="444.00" stroke="#444" stroke-width="1" />
<line x1="646.10" y1="437.50" x2="646.10" y2="444.00" stroke="#444" stroke-width="1" />
<line x1="570.00" y1="413.30" x2="678.00" y2="413.30" stroke="#111" stroke-width="1.7" stroke-dasharray="0.01,5.13" stroke-linecap="round"/>
<text x="0" y="0" font-size="12.5" text-anchor="end" fill="#1e1e1e" color="#1e1e1e" transform="translate(599.00,451.50) rotate(-37)">Metastatic</text>
<text x="0" y="0" font-size="12.5" text-anchor="end" fill="#1e1e1e" color="#1e1e1e" transform="translate(650.30,454.00) rotate(-37)">Localized</text>
<text x="0" y="0" font-size="14" text-anchor="middle" fill="#1e1e1e" color="#1e1e1e" transform="translate(523.00,347.50) rotate(-90)">ctDNA (MTM/ml)</text>
<circle cx="597.30" cy="286.70" r="2.6" fill="#000" />
<circle cx="597.30" cy="313.00" r="2.6" fill="#000" />
<circle cx="646.10" cy="356.70" r="2.6" fill="#000" />
<circle cx="641.00" cy="368.70" r="2.6" fill="#000" />
<circle cx="651.20" cy="369.30" r="2.6" fill="#000" />
<circle cx="646.10" cy="382.10" r="2.6" fill="#000" />
<circle cx="646.10" cy="392.00" r="2.6" fill="#000" />
<circle cx="646.10" cy="405.50" r="2.6" fill="#000" />
<circle cx="641.00" cy="426.10" r="2.6" fill="#000" />
<circle cx="651.20" cy="426.10" r="2.6" fill="#000" />
<text x="2.40" y="506.10" font-size="29" text-anchor="start" fill="#000" color="#000" >G</text>
<line x1="60.50" y1="512.30" x2="65.50" y2="512.30" stroke="#444" stroke-width="1" />
<text x="58.00" y="515.30" font-size="14" text-anchor="end" fill="#1e1e1e" color="#1e1e1e">10<tspan font-size="8.5" dy="-4.8">2</tspan></text>
<line x1="60.50" y1="593.40" x2="65.50" y2="593.40" stroke="#444" stroke-width="1" />
<text x="58.00" y="596.40" font-size="14" text-anchor="end" fill="#1e1e1e" color="#1e1e1e">10<tspan font-size="8.5" dy="-4.8">1</tspan></text>
<line x1="60.50" y1="674.50" x2="65.50" y2="674.50" stroke="#444" stroke-width="1" />
<text x="58.00" y="677.50" font-size="14" text-anchor="end" fill="#1e1e1e" color="#1e1e1e">10<tspan font-size="8.5" dy="-4.8">0</tspan></text>
<line x1="65.50" y1="512.30" x2="65.50" y2="674.50" stroke="#444" stroke-width="1" />
<line x1="65.50" y1="674.50" x2="228.00" y2="674.50" stroke="#444" stroke-width="1" />
<line x1="65.50" y1="674.50" x2="65.50" y2="679.50" stroke="#444" stroke-width="1" />
<text x="66.00" y="694.70" font-size="14" text-anchor="middle" fill="#1e1e1e" color="#1e1e1e">10<tspan font-size="8.5" dy="-4.8">0</tspan></text>
<line x1="119.90" y1="674.50" x2="119.90" y2="679.50" stroke="#444" stroke-width="1" />
<text x="120.40" y="694.70" font-size="14" text-anchor="middle" fill="#1e1e1e" color="#1e1e1e">10<tspan font-size="8.5" dy="-4.8">1</tspan></text>
<line x1="173.40" y1="674.50" x2="173.40" y2="679.50" stroke="#444" stroke-width="1" />
<text x="173.90" y="694.70" font-size="14" text-anchor="middle" fill="#1e1e1e" color="#1e1e1e">10<tspan font-size="8.5" dy="-4.8">2</tspan></text>
<line x1="227.60" y1="674.50" x2="227.60" y2="679.50" stroke="#444" stroke-width="1" />
<text x="228.10" y="694.70" font-size="14" text-anchor="middle" fill="#1e1e1e" color="#1e1e1e">10<tspan font-size="8.5" dy="-4.8">3</tspan></text>
<text x="147.50" y="710.70" font-size="14" text-anchor="middle" fill="#1e1e1e" color="#1e1e1e" >tumor volume (ml)</text>
<text x="0" y="0" font-size="14" text-anchor="middle" fill="#1e1e1e" color="#1e1e1e" transform="translate(25.00,588.50) rotate(-90)">cfDNA (ng/ml)</text>
<text x="77.80" y="529.80" font-size="9.5" text-anchor="start" fill="#222" color="#222" >r = 0.83</text>
<text x="77.8" y="542" font-size="9.5" fill="#222" color="#222"><tspan font-style="italic">p</tspan> = 0.01</text>
<circle cx="77.40" cy="620.90" r="3.2" fill="#000" />
<circle cx="150.00" cy="641.10" r="3.2" fill="#000" />
<circle cx="158.20" cy="599.40" r="3.2" fill="#000" />
<circle cx="160.50" cy="585.10" r="3.2" fill="#000" />
<circle cx="162.50" cy="618.70" r="3.2" fill="#000" />
<circle cx="173.80" cy="588.80" r="3.2" fill="#000" />
<circle cx="187.00" cy="555.10" r="3.2" fill="#000" />
<circle cx="212.20" cy="583.30" r="3.2" fill="#000" />
<text x="2.40" y="737.10" font-size="29" text-anchor="start" fill="#000" color="#000" >H</text>
<line x1="59.50" y1="745.50" x2="64.50" y2="745.50" stroke="#444" stroke-width="1" />
<text x="57.00" y="748.50" font-size="14" text-anchor="end" fill="#1e1e1e" color="#1e1e1e">10<tspan font-size="8.5" dy="-4.8">3</tspan></text>
<line x1="59.50" y1="777.92" x2="64.50" y2="777.92" stroke="#444" stroke-width="1" />
<text x="57.00" y="780.92" font-size="14" text-anchor="end" fill="#1e1e1e" color="#1e1e1e">10<tspan font-size="8.5" dy="-4.8">2</tspan></text>
<line x1="59.50" y1="810.34" x2="64.50" y2="810.34" stroke="#444" stroke-width="1" />
<text x="57.00" y="813.34" font-size="14" text-anchor="end" fill="#1e1e1e" color="#1e1e1e">10<tspan font-size="8.5" dy="-4.8">1</tspan></text>
<line x1="59.50" y1="842.76" x2="64.50" y2="842.76" stroke="#444" stroke-width="1" />
<text x="57.00" y="845.76" font-size="14" text-anchor="end" fill="#1e1e1e" color="#1e1e1e">10<tspan font-size="8.5" dy="-4.8">0</tspan></text>
<line x1="59.50" y1="875.18" x2="64.50" y2="875.18" stroke="#444" stroke-width="1" />
<text x="57.00" y="878.18" font-size="14" text-anchor="end" fill="#1e1e1e" color="#1e1e1e">10<tspan font-size="8.5" dy="-4.8">-1</tspan></text>
<line x1="59.50" y1="907.60" x2="64.50" y2="907.60" stroke="#444" stroke-width="1" />
<text x="57.00" y="910.60" font-size="14" text-anchor="end" fill="#1e1e1e" color="#1e1e1e">10<tspan font-size="8.5" dy="-4.8">-2</tspan></text>
<line x1="64.50" y1="745.50" x2="64.50" y2="907.60" stroke="#444" stroke-width="1" />
<line x1="64.50" y1="907.60" x2="228.00" y2="907.60" stroke="#444" stroke-width="1" />
<line x1="64.50" y1="907.60" x2="64.50" y2="912.60" stroke="#444" stroke-width="1" />
<text x="65.00" y="927.80" font-size="14" text-anchor="middle" fill="#1e1e1e" color="#1e1e1e">10<tspan font-size="8.5" dy="-4.8">0</tspan></text>
<line x1="119.10" y1="907.60" x2="119.10" y2="912.60" stroke="#444" stroke-width="1" />
<text x="119.60" y="927.80" font-size="14" text-anchor="middle" fill="#1e1e1e" color="#1e1e1e">10<tspan font-size="8.5" dy="-4.8">1</tspan></text>
<line x1="172.90" y1="907.60" x2="172.90" y2="912.60" stroke="#444" stroke-width="1" />
<text x="173.40" y="927.80" font-size="14" text-anchor="middle" fill="#1e1e1e" color="#1e1e1e">10<tspan font-size="8.5" dy="-4.8">2</tspan></text>
<line x1="227.60" y1="907.60" x2="227.60" y2="912.60" stroke="#444" stroke-width="1" />
<text x="228.10" y="927.80" font-size="14" text-anchor="middle" fill="#1e1e1e" color="#1e1e1e">10<tspan font-size="8.5" dy="-4.8">3</tspan></text>
<text x="146.00" y="947.00" font-size="14" text-anchor="middle" fill="#1e1e1e" color="#1e1e1e" >Tumor volume (ml)</text>
<text x="0" y="0" font-size="14" text-anchor="middle" fill="#1e1e1e" color="#1e1e1e" transform="translate(25.00,829.60) rotate(-90)">ctDNA (MTM/ml)</text>
<text x="78.80" y="763.00" font-size="9.5" text-anchor="start" fill="#222" color="#222" >r = 0.70</text>
<text x="78.8" y="775.3" font-size="9.5" fill="#222" color="#222"><tspan font-style="italic">p</tspan> = 0.03</text>
<circle cx="77.10" cy="875.00" r="3.2" fill="#000" />
<circle cx="149.60" cy="832.00" r="3.2" fill="#000" />
<circle cx="158.00" cy="875.00" r="3.2" fill="#000" />
<circle cx="160.50" cy="800.60" r="3.2" fill="#000" />
<circle cx="162.50" cy="783.00" r="3.2" fill="#000" />
<circle cx="173.80" cy="783.40" r="3.2" fill="#000" />
<circle cx="187.00" cy="767.00" r="3.2" fill="#000" />
<circle cx="212.20" cy="814.10" r="3.2" fill="#000" />
<text x="278.40" y="506.40" font-size="29" text-anchor="start" fill="#000" color="#000" >I</text>
<line x1="323.20" y1="505.50" x2="333.50" y2="505.50" stroke="#444" stroke-width="1" />
<text x="319.20" y="509.50" font-size="14" text-anchor="end" fill="#1e1e1e" color="#1e1e1e">10<tspan font-size="8.5" dy="-4.2">6</tspan></text>
<line x1="323.20" y1="566.25" x2="333.50" y2="566.25" stroke="#444" stroke-width="1" />
<text x="319.20" y="570.25" font-size="14" text-anchor="end" fill="#1e1e1e" color="#1e1e1e">10<tspan font-size="8.5" dy="-4.2">5</tspan></text>
<line x1="323.20" y1="627.00" x2="333.50" y2="627.00" stroke="#444" stroke-width="1" />
<text x="319.20" y="631.00" font-size="14" text-anchor="end" fill="#1e1e1e" color="#1e1e1e">10<tspan font-size="8.5" dy="-4.2">4</tspan></text>
<line x1="323.20" y1="687.75" x2="333.50" y2="687.75" stroke="#444" stroke-width="1" />
<text x="319.20" y="691.75" font-size="14" text-anchor="end" fill="#1e1e1e" color="#1e1e1e">10<tspan font-size="8.5" dy="-4.2">3</tspan></text>
<line x1="323.20" y1="748.50" x2="333.50" y2="748.50" stroke="#444" stroke-width="1" />
<text x="319.20" y="752.50" font-size="14" text-anchor="end" fill="#1e1e1e" color="#1e1e1e">10<tspan font-size="8.5" dy="-4.2">2</tspan></text>
<line x1="323.20" y1="809.25" x2="333.50" y2="809.25" stroke="#444" stroke-width="1" />
<text x="319.20" y="813.25" font-size="14" text-anchor="end" fill="#1e1e1e" color="#1e1e1e">10<tspan font-size="8.5" dy="-4.2">1</tspan></text>
<line x1="323.20" y1="870.00" x2="333.50" y2="870.00" stroke="#444" stroke-width="1" />
<text x="319.20" y="874.00" font-size="14" text-anchor="end" fill="#1e1e1e" color="#1e1e1e">10<tspan font-size="8.5" dy="-4.2">0</tspan></text>
<line x1="323.20" y1="902.00" x2="333.50" y2="902.00" stroke="#444" stroke-width="1" />
<text x="319.00" y="907.00" font-size="14" text-anchor="end" fill="#1e1e1e" color="#1e1e1e" >ND</text>
<line x1="333.50" y1="505.50" x2="333.50" y2="912.50" stroke="#666" stroke-width="1.2" />
<line x1="333.50" y1="912.50" x2="683.20" y2="912.50" stroke="#444" stroke-width="1" />
<line x1="338.50" y1="912.50" x2="338.50" y2="921.80" stroke="#444" stroke-width="1" />
<text x="338.50" y="937.60" font-size="14" text-anchor="middle" fill="#1e1e1e" color="#1e1e1e" >0</text>
<line x1="394.12" y1="912.50" x2="394.12" y2="921.80" stroke="#444" stroke-width="1" />
<text x="394.12" y="937.60" font-size="14" text-anchor="middle" fill="#1e1e1e" color="#1e1e1e" >100</text>
<line x1="449.74" y1="912.50" x2="449.74" y2="921.80" stroke="#444" stroke-width="1" />
<text x="449.74" y="937.60" font-size="14" text-anchor="middle" fill="#1e1e1e" color="#1e1e1e" >200</text>
<line x1="505.36" y1="912.50" x2="505.36" y2="921.80" stroke="#444" stroke-width="1" />
<text x="505.36" y="937.60" font-size="14" text-anchor="middle" fill="#1e1e1e" color="#1e1e1e" >300</text>
<line x1="560.98" y1="912.50" x2="560.98" y2="921.80" stroke="#444" stroke-width="1" />
<text x="560.98" y="937.60" font-size="14" text-anchor="middle" fill="#1e1e1e" color="#1e1e1e" >400</text>
<line x1="616.60" y1="912.50" x2="616.60" y2="921.80" stroke="#444" stroke-width="1" />
<text x="616.60" y="937.60" font-size="14" text-anchor="middle" fill="#1e1e1e" color="#1e1e1e" >500</text>
<line x1="672.22" y1="912.50" x2="672.22" y2="921.80" stroke="#444" stroke-width="1" />
<text x="672.22" y="937.60" font-size="14" text-anchor="middle" fill="#1e1e1e" color="#1e1e1e" >600</text>
<text x="517.80" y="960.00" font-size="14" text-anchor="middle" fill="#1e1e1e" color="#1e1e1e" >Time (days)</text>
<text x="0" y="0" font-size="14" text-anchor="middle" fill="#1e1e1e" color="#1e1e1e" transform="translate(286.60,720.00) rotate(-90)">ctDNA (MTM/ml)</text>
<line x1="333.50" y1="870.00" x2="683.00" y2="870.00" stroke="#111" stroke-width="2.4" stroke-dasharray="0.01,7.85" stroke-linecap="round"/>
<line x1="461.70" y1="539.80" x2="489.60" y2="539.80" stroke="#161616" stroke-width="1.3" />
<circle cx="475.60" cy="539.80" r="4.2" fill="#161616" />
<text x="498.00" y="544.20" font-size="12.4" text-anchor="start" fill="#1e1e1e" color="#1e1e1e" >Patients without relapse</text>
<line x1="461.70" y1="560.80" x2="489.60" y2="560.80" stroke="#859230" stroke-width="1.3" />
<circle cx="475.60" cy="560.80" r="4.2" fill="#859230" />
<text x="498.00" y="565.20" font-size="12.4" text-anchor="start" fill="#1e1e1e" color="#1e1e1e" >Relapse (C002)</text>
<line x1="461.70" y1="581.80" x2="489.60" y2="581.80" stroke="#e8a05c" stroke-width="1.3" />
<circle cx="475.60" cy="581.80" r="4.2" fill="#e8a05c" />
<text x="498.00" y="586.20" font-size="12.4" text-anchor="start" fill="#1e1e1e" color="#1e1e1e" >Relapse (C032)</text>
<line x1="461.70" y1="602.80" x2="489.60" y2="602.80" stroke="#8db4d6" stroke-width="1.3" />
<circle cx="475.60" cy="602.80" r="4.2" fill="#6699c2" />
<text x="498.00" y="607.20" font-size="12.4" text-anchor="start" fill="#1e1e1e" color="#1e1e1e" >Relapse (C077)</text>
<line x1="461.70" y1="623.80" x2="489.60" y2="623.80" stroke="#c98fb4" stroke-width="1.3" />
<circle cx="475.60" cy="623.80" r="4.2" fill="#b9739e" />
<text x="498.00" y="628.20" font-size="12.4" text-anchor="start" fill="#1e1e1e" color="#1e1e1e" >Primary resistant disease (C102)</text>
<polyline points="337.60,791.80 348.80,835.70 351.00,902.00 363.70,843.90 376.60,902.00" fill="none" stroke="#e8a05c" stroke-width="1.2" stroke-linejoin="round" />
<polyline points="401.10,902.00 419.40,870.20 431.90,902.00" fill="none" stroke="#e8a05c" stroke-width="1.2" stroke-linejoin="round" />
<polyline points="437.60,902.00 496.50,844.20" fill="none" stroke="#e8a05c" stroke-width="1.2" stroke-linejoin="round" />
<polyline points="338.70,759.00 344.00,820.00 350.40,902.00 362.30,847.60 374.40,902.00" fill="none" stroke="#6699c2" stroke-width="1.2" stroke-linejoin="round" />
<polyline points="571.50,902.00 602.60,823.20" fill="none" stroke="#6699c2" stroke-width="1.2" stroke-linejoin="round" />
<polyline points="338.50,850.30 338.90,902.00" fill="none" stroke="#859230" stroke-width="1.2" stroke-linejoin="round" />
<polyline points="409.10,902.00 420.80,807.00 422.20,902.00" fill="none" stroke="#859230" stroke-width="1.2" stroke-linejoin="round" />
<polyline points="422.80,902.00 425.60,869.60 435.90,902.00" fill="none" stroke="#859230" stroke-width="1.2" stroke-linejoin="round" />
<polyline points="483.40,902.00 577.70,831.50" fill="none" stroke="#859230" stroke-width="1.2" stroke-linejoin="round" />
<circle cx="337.60" cy="791.80" r="3.8" fill="#e8a05c" />
<line x1="338.90" y1="902.00" x2="675.00" y2="902.00" stroke="#333" stroke-width="1.6" />
<polyline points="338.50,553.00 361.90,902.00" fill="none" stroke="#161616" stroke-width="1.3" stroke-linejoin="round" />
<polyline points="338.80,728.40 339.80,749.80 338.70,758.20 338.50,817.30 338.50,902.00" fill="none" stroke="#161616" stroke-width="1.3" stroke-linejoin="round" />
<polyline points="338.70,758.20 339.60,817.30" fill="none" stroke="#161616" stroke-width="1.3" stroke-linejoin="round" />
<polyline points="338.50,817.30 345.10,868.20 362.50,902.00" fill="none" stroke="#161616" stroke-width="1.3" stroke-linejoin="round" />
<polyline points="339.50,760.00 345.10,868.20" fill="none" stroke="#161616" stroke-width="1.3" stroke-linejoin="round" />
<polyline points="361.50,902.00 363.60,863.00 374.40,902.00" fill="none" stroke="#161616" stroke-width="1.3" stroke-linejoin="round" />
<polyline points="374.40,902.00 384.80,826.00 396.70,864.00 407.00,902.00" fill="none" stroke="#161616" stroke-width="1.3" stroke-linejoin="round" />
<polyline points="405.10,902.00 414.80,865.00 425.60,902.00" fill="none" stroke="#161616" stroke-width="1.3" stroke-linejoin="round" />
<circle cx="341.30" cy="902.00" r="3.8" fill="#859230" />
<circle cx="352.60" cy="902.00" r="3.8" fill="#e8a05c" />
<circle cx="400.00" cy="902.00" r="3.8" fill="#6699c2" />
<circle cx="415.40" cy="902.00" r="3.8" fill="#6699c2" />
<circle cx="437.60" cy="902.00" r="3.8" fill="#6699c2" />
<circle cx="483.60" cy="902.00" r="3.8" fill="#859230" />
<circle cx="571.50" cy="902.00" r="3.8" fill="#6699c2" />
<circle cx="338.70" cy="760.50" r="3.8" fill="#6699c2" />
<circle cx="348.80" cy="835.70" r="3.8" fill="#e8a05c" />
<circle cx="363.70" cy="843.90" r="3.8" fill="#e8a05c" />
<circle cx="419.40" cy="870.20" r="3.8" fill="#e8a05c" />
<circle cx="496.50" cy="844.20" r="3.8" fill="#e8a05c" />
<circle cx="362.30" cy="847.60" r="3.8" fill="#6699c2" />
<circle cx="602.60" cy="823.20" r="3.8" fill="#6699c2" />
<circle cx="338.50" cy="850.30" r="3.8" fill="#859230" />
<circle cx="420.80" cy="807.00" r="3.8" fill="#859230" />
<circle cx="425.60" cy="869.60" r="3.8" fill="#859230" />
<circle cx="577.70" cy="831.50" r="3.8" fill="#859230" />
<circle cx="338.50" cy="553.00" r="3.8" fill="#161616" />
<circle cx="338.80" cy="728.40" r="3.8" fill="#161616" />
<circle cx="339.80" cy="749.80" r="3.8" fill="#161616" />
<circle cx="338.70" cy="758.20" r="3.8" fill="#161616" />
<circle cx="338.50" cy="817.30" r="3.8" fill="#161616" />
<circle cx="345.10" cy="868.20" r="3.8" fill="#161616" />
<circle cx="363.60" cy="863.00" r="3.8" fill="#161616" />
<circle cx="384.80" cy="826.00" r="3.8" fill="#161616" />
<circle cx="396.70" cy="864.00" r="3.8" fill="#161616" />
<circle cx="414.80" cy="865.00" r="3.8" fill="#161616" />
<circle cx="338.90" cy="902.00" r="3.8" fill="#161616" />
<circle cx="350.40" cy="902.00" r="3.8" fill="#161616" />
<circle cx="361.50" cy="902.00" r="3.8" fill="#161616" />
<circle cx="364.80" cy="902.00" r="3.8" fill="#161616" />
<circle cx="373.40" cy="902.00" r="3.8" fill="#161616" />
<circle cx="376.60" cy="902.00" r="3.8" fill="#161616" />
<circle cx="384.50" cy="902.00" r="3.8" fill="#161616" />
<circle cx="387.80" cy="902.00" r="3.8" fill="#161616" />
<circle cx="396.40" cy="902.00" r="3.8" fill="#161616" />
<circle cx="403.60" cy="902.00" r="3.8" fill="#161616" />
<circle cx="407.50" cy="902.00" r="3.8" fill="#161616" />
<circle cx="410.80" cy="902.00" r="3.8" fill="#161616" />
<circle cx="421.80" cy="902.00" r="3.8" fill="#161616" />
<circle cx="426.40" cy="902.00" r="3.8" fill="#161616" />
<circle cx="431.70" cy="902.00" r="3.8" fill="#161616" />
<circle cx="435.00" cy="902.00" r="3.8" fill="#161616" />
<circle cx="441.50" cy="902.00" r="3.8" fill="#161616" />
<circle cx="445.20" cy="902.00" r="3.8" fill="#161616" />
<circle cx="453.40" cy="902.00" r="3.8" fill="#161616" />
<circle cx="459.90" cy="902.00" r="3.8" fill="#161616" />
<circle cx="470.40" cy="902.00" r="3.8" fill="#161616" />
<circle cx="476.40" cy="902.00" r="3.8" fill="#161616" />
<circle cx="496.30" cy="902.00" r="3.8" fill="#161616" />
<circle cx="504.50" cy="902.00" r="3.8" fill="#161616" />
<circle cx="524.90" cy="902.00" r="3.8" fill="#161616" />
<circle cx="533.00" cy="902.00" r="3.8" fill="#161616" />
<circle cx="542.90" cy="902.00" r="3.8" fill="#161616" />
<circle cx="573.10" cy="902.00" r="3.8" fill="#161616" />
<circle cx="582.30" cy="902.00" r="3.8" fill="#161616" />
<circle cx="606.90" cy="902.00" r="3.8" fill="#161616" />
<circle cx="630.20" cy="902.00" r="3.8" fill="#161616" />
<circle cx="640.60" cy="902.00" r="3.8" fill="#161616" />
<circle cx="642.70" cy="902.00" r="3.8" fill="#161616" />
<circle cx="657.70" cy="902.00" r="3.8" fill="#161616" />
<circle cx="674.90" cy="902.00" r="3.8" fill="#161616" />
<polyline points="338.40,618.50 350.10,810.30 361.90,860.20 370.70,833.70 384.80,824.20 396.50,833.10 407.90,769.90 452.80,723.00 464.60,764.60 476.20,710.20" fill="none" stroke="#b9739e" stroke-width="1.2" stroke-linejoin="round" />
<circle cx="338.40" cy="618.50" r="3.8" fill="#b9739e" />
<circle cx="350.10" cy="810.30" r="3.8" fill="#b9739e" />
<circle cx="361.90" cy="860.20" r="3.8" fill="#b9739e" />
<circle cx="370.70" cy="833.70" r="3.8" fill="#b9739e" />
<circle cx="384.80" cy="824.20" r="3.8" fill="#b9739e" />
<circle cx="396.50" cy="833.10" r="3.8" fill="#b9739e" />
<circle cx="407.90" cy="769.90" r="3.8" fill="#b9739e" />
<circle cx="452.80" cy="723.00" r="3.8" fill="#b9739e" />
<circle cx="464.60" cy="764.60" r="3.8" fill="#b9739e" />
<circle cx="476.20" cy="710.20" r="3.8" fill="#b9739e" />
</svg></body></html>
